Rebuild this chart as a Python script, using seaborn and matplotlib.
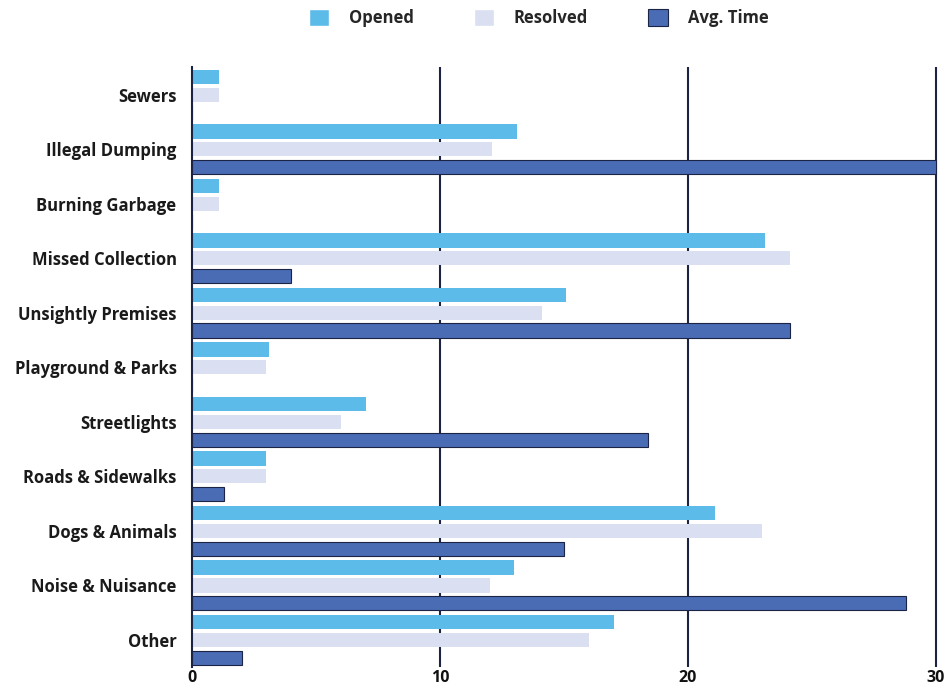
import matplotlib
matplotlib.use("Agg")
import matplotlib.pyplot as plt
import seaborn as sns
import pandas as pd

categories = [
    "Sewers", "Illegal Dumping", "Burning Garbage", "Missed Collection",
    "Unsightly Premises", "Playground & Parks", "Streetlights",
    "Roads & Sidewalks", "Dogs & Animals", "Noise & Nuisance", "Other",
]
opened = [1.1, 13.1, 1.1, 23.1, 15.1, 3.1, 7.0, 3.0, 21.1, 13.0, 17.0]
resolved = [1.1, 12.1, 1.1, 24.1, 14.1, 3.0, 6.0, 3.0, 23.0, 12.0, 16.0]
avg_time = [0, 30, 0, 4, 24.1, 0, 18.4, 1.3, 15.0, 28.8, 2.0]
series_names = ["Opened", "Resolved", "Avg. Time"]
x_ticks = [0, 10, 20, 30]

colors = ["#5cbbe8", "#dadff1", "#4a6cb5"]
navy = "#1b2444"

rows = []
for name, vals in zip(series_names, [opened, resolved, avg_time]):
    for cat, v in zip(categories, vals):
        rows.append({"category": cat, "value": v, "series": name})
df = pd.DataFrame(rows)

sns.set_theme(style="white")
plt.rcParams["font.family"] = ["Open Sans", "DejaVu Sans"]

fig = plt.figure(figsize=(9.5, 6.95), dpi=100)
ax = fig.add_axes([0.202, 0.040, 0.786, 0.863])

sns.barplot(
    data=df, y="category", x="value", hue="series", orient="h",
    order=categories, hue_order=series_names, palette=colors,
    width=0.98, gap=0.2, saturation=1, ax=ax, legend=True,
)

# dark outline on the average-time bars
for patch in ax.containers[2].patches:
    patch.set_edgecolor(navy)
    patch.set_linewidth(0.8)
for c in ax.containers[:2]:
    for patch in c.patches:
        patch.set_edgecolor("none")

ax.set_xlim(0, 30.1)
ax.set_xticks(x_ticks)
ax.set_xticklabels([str(t) for t in x_ticks], fontsize=11.5, fontweight="bold", color="#111111")
ax.set_xlabel("")
ax.set_ylabel("")
for lbl in ax.get_yticklabels():
    lbl.set_fontsize(12)
    lbl.set_fontweight("bold")
    lbl.set_color("#1a1a1a")
ax.tick_params(axis="y", length=0, pad=11)
ax.tick_params(axis="x", length=0, pad=2)

for t in x_ticks[1:]:
    ax.axvline(t, color=navy, linewidth=1.5, zorder=0)

for s in ["top", "right", "bottom"]:
    ax.spines[s].set_visible(False)
ax.spines["left"].set_color(navy)
ax.spines["left"].set_linewidth(1.5)

handles, labels = ax.get_legend_handles_labels()
handles[2].set_edgecolor(navy)
handles[2].set_linewidth(0.8)
ax.legend_.remove()
fig.legend(
    handles, labels, loc="center", bbox_to_anchor=(0.567, 0.974), ncol=3,
    frameon=False, handlelength=1.2, handleheight=1.2, handletextpad=1.2,
    columnspacing=3.6, prop={"size": 12, "weight": "bold"},
)

fig.savefig("out.png", dpi=100, facecolor="white")
